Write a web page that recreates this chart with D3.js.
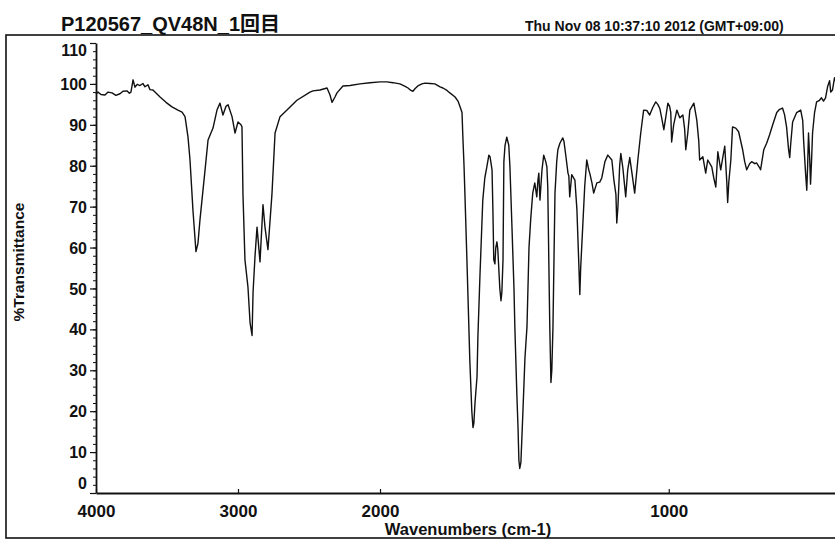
<!DOCTYPE html>
<html>
<head>
<meta charset="utf-8">
<script src="https://cdn.jsdelivr.net/npm/d3@7"></script>
<style>
	html, body { margin: 0; padding: 0; background: #fff; overflow: hidden; }
	svg { display: block; font-family: "Liberation Sans", Arial, "Noto Sans CJK JP", sans-serif; }
</style>
</head>
<body>
<svg id="chart" width="835" height="540"></svg>
<script>
const title = 'P120567_QV48N_1回目';
const stamp = 'Thu Nov 08 10:37:10 2012 (GMT+09:00)';

// spectrum: wavenumber (cm-1) and %T
const wavenumbers = [
	4000, 3986, 3965, 3937, 3915, 3887, 3860, 3831, 3810, 3782, 3765, 3754, 3739, 3730, 3725, 3710, 3690, 3670, 3655, 3634, 3620, 3599,
	3549, 3507, 3465, 3423, 3394, 3373, 3352, 3338, 3317, 3296, 3282, 3268, 3232, 3211, 3176, 3148, 3127, 3106, 3085, 3070, 3042,
	3021, 3000, 2979, 2972, 2965, 2951, 2930, 2915, 2901, 2894, 2880, 2866, 2845, 2824, 2810, 2789, 2761, 2739, 2704, 2655, 2585,
	2493, 2472, 2423, 2373, 2352, 2338, 2317, 2303, 2261, 2211, 2141, 2070, 2000,
	1976, 1955, 1931, 1913, 1903, 1893, 1886, 1879, 1869, 1855, 1844, 1827, 1810, 1792, 1782, 1768, 1758, 1740, 1730, 1723, 1716,
	1713, 1709, 1706, 1699, 1692, 1689, 1682, 1678, 1675, 1671, 1664, 1661, 1654, 1647, 1644, 1637, 1630, 1623, 1619, 1612, 1609,
	1606, 1602, 1599, 1595, 1592, 1585, 1581, 1578, 1574, 1571, 1567, 1561, 1554, 1550, 1543, 1536, 1533, 1526, 1522, 1519, 1516,
	1512, 1505, 1498, 1491, 1484, 1478, 1471, 1464, 1457, 1453, 1450, 1446, 1439, 1433, 1426, 1422, 1419, 1415, 1412, 1408, 1405,
	1401, 1394, 1388, 1384, 1377, 1367, 1363, 1356, 1349, 1346, 1343, 1336, 1325, 1318, 1311, 1308, 1305, 1298, 1291, 1284, 1277,
	1273, 1266, 1260, 1249, 1239, 1232, 1221, 1211, 1197, 1190, 1183, 1180, 1176, 1170, 1166, 1159, 1149, 1142, 1135, 1128, 1118,
	1107, 1097, 1087, 1076, 1066, 1055, 1045, 1038, 1031, 1024, 1017, 1010, 1003, 997, 993, 990, 983, 972, 962, 951, 945, 941,
	934, 927, 913, 903, 896, 893, 882, 872, 865, 851, 844, 837, 830, 820, 813, 806, 799, 796, 792, 785, 779, 768, 758, 744, 737,
	730, 720, 713, 702, 696, 685, 682, 671, 661, 651, 640, 626, 616, 606, 599, 592, 585, 581, 578, 571, 557, 543, 536, 533, 526,
	522, 519, 516, 512, 509, 505, 502, 495, 488, 478, 471, 464, 457, 450, 443, 439, 433, 426, 415, 401
];
const transmittance = [
	97.5, 98.0, 97.4, 97.3, 98.0, 97.8, 97.2, 97.6, 98.2, 98.3, 97.7, 98.0, 101.0, 99.8, 99.2, 99.9, 99.6, 100.1, 99.3, 99.8, 98.6, 98.5,
	96.8, 95.5, 94.4, 93.6, 93.1, 92.0, 87.0, 81.4, 69.0, 59.0, 61.0, 66.7, 79.0, 86.3, 89.2, 93.6, 95.3, 92.4, 94.5, 94.9, 92.0,
	88.0, 90.7, 90.0, 89.5, 73.0, 57.0, 50.4, 41.6, 38.5, 49.0, 58.0, 65.0, 56.5, 70.5, 65.0, 59.5, 73.0, 88.0, 92.0, 93.6, 96.0,
	98.0, 98.3, 98.5, 99.0, 97.3, 95.5, 96.8, 97.8, 99.5, 99.6, 100.0, 100.3, 100.5,
	100.5, 100.3, 100.0, 99.4, 99.0, 98.4, 98.2, 98.8, 99.5, 100.0, 100.2, 100.1, 100.0, 99.3, 99.0, 98.4, 97.8, 96.8, 95.8, 94.5, 93.0,
	87.0, 80.0, 73.3, 57.0, 40.0, 32.5, 20.0, 16.0, 17.0, 22.0, 28.4, 38.0, 52.8, 66.0, 71.6, 77.0, 79.7, 82.6, 82.2, 79.0, 69.2,
	57.0, 56.0, 60.0, 61.4, 59.5, 50.0, 47.0, 49.0, 57.0, 81.0, 85.0, 87.0, 85.0, 79.7, 65.0, 50.0, 40.6, 24.0, 16.0, 8.0, 6.0,
	7.5, 20.0, 33.0, 40.6, 60.0, 67.0, 73.3, 75.8, 72.4, 76.5, 78.2, 71.6, 79.0, 82.6, 81.0, 79.7, 74.8, 55.0, 40.6, 27.0, 30.0,
	40.6, 73.3, 81.0, 83.9, 85.5, 86.8, 86.0, 82.2, 78.2, 77.5, 72.4, 77.8, 76.5, 69.2, 55.0, 48.5, 55.0, 65.0, 75.0, 81.4, 79.0,
	78.0, 75.8, 73.3, 75.8, 76.0, 77.0, 81.0, 82.6, 81.4, 76.5, 73.0, 66.0, 70.0, 80.0, 83.0, 79.5, 72.4, 79.0, 82.0, 78.5, 73.3,
	81.4, 88.0, 93.6, 93.5, 92.4, 94.3, 95.6, 95.0, 94.0, 91.5, 88.8, 92.0, 95.3, 94.5, 93.0, 85.8, 90.0, 93.6, 91.7, 92.4, 89.0, 83.9,
	88.0, 93.6, 95.3, 91.2, 86.0, 81.4, 82.2, 78.2, 81.4, 79.7, 77.0, 74.8, 83.4, 79.0, 82.0, 84.8, 76.0, 71.0, 76.0, 81.4, 89.5, 89.2, 88.3, 83.9, 81.0,
	79.0, 80.5, 81.0, 80.5, 80.7, 79.5, 79.0, 83.9, 85.5, 87.5, 90.0, 93.0, 93.8, 94.1, 92.5, 89.5, 84.0, 82.0, 85.0, 90.7, 93.0, 93.6, 91.0, 86.3, 78.0,
	74.0, 80.0, 88.0, 82.0, 75.5, 82.0, 88.0, 93.0, 95.6, 96.0, 96.6, 95.8, 96.6, 99.3, 100.8, 98.0, 98.5, 101.5, 99.0, 100.0
];
const xTicks = [4000, 3000, 2000, 1000];
const yTicks = [0, 10, 20, 30, 40, 50, 60, 70, 80, 90, 100, 110];
const yMinorTicks = d3.range(0, 111, 2);

const svg = d3.select('#chart');
const ink = '#111';

// scan frame
svg.append('rect')
	.attr('x', 6)
	.attr('y', 35)
	.attr('width', 840)
	.attr('height', 503)
	.style('fill', 'none')
	.style('stroke', ink)
	.style('stroke-width', 1.6);

svg.append('text')
	.attr('x', 61)
	.attr('y', 31)
	.style('font-size', '20px')
	.style('font-weight', 'bold')
	.style('fill', ink)
	.text(title);

svg.append('text')
	.attr('x', 525)
	.attr('y', 31)
	.style('font-size', '14px')
	.style('font-weight', 'bold')
	.style('fill', ink)
	.text(stamp);

// wavenumber axis is expanded 2x below 2000 cm-1
const x = d3.scaleLinear().domain([4000, 2000, 400]).range([96, 380, 842]);
const y = d3.scaleLinear().domain([0, 110]).range([493, 43]);

const xAxis = svg.append('g')
	.attr('transform', `translate(0,${y(0)})`)
	.call(d3.axisBottom(x).tickValues(xTicks).tickSize(-4).tickSizeOuter(0).tickPadding(10).tickFormat(d3.format('d')));
xAxis.select('.domain').style('stroke', ink).style('stroke-width', 1.8);
xAxis.selectAll('.tick line').style('stroke', ink).style('stroke-width', 1.2);
xAxis.selectAll('.tick text')
	.style('font-family', '"Liberation Sans", Arial, sans-serif')
	.style('font-size', '17px')
	.style('font-weight', 'bold')
	.style('fill', ink)
	.attr('dy', '0.85em');

svg.append('g')
	.attr('transform', `translate(${x(4000)},0)`)
	.call(d3.axisLeft(y).tickValues(yMinorTicks).tickSize(3).tickFormat(''))
	.call((g) => g.select('.domain').remove())
	.selectAll('.tick line').style('stroke', ink);

const yAxis = svg.append('g')
	.attr('transform', `translate(${x(4000)},0)`)
	.call(d3.axisLeft(y).tickValues(yTicks).tickSize(6).tickSizeOuter(0).tickPadding(3));
yAxis.select('.domain').style('stroke', ink).style('stroke-width', 1.8);
yAxis.selectAll('.tick line').style('stroke', ink).style('stroke-width', 1.2);
yAxis.selectAll('.tick text')
	.style('font-family', '"Liberation Sans", Arial, sans-serif')
	.style('font-size', '16px')
	.style('font-weight', 'bold')
	.style('fill', ink)
	.attr('dy', (d) => (d === 110 ? '0.75em' : d === 0 ? '-0.3em' : '0.35em'));

svg.append('text')
	.attr('transform', 'translate(24,262) rotate(-90)')
	.attr('text-anchor', 'middle')
	.style('font-size', '15.5px')
	.style('font-weight', 'bold')
	.style('fill', ink)
	.text('%Transmittance');

svg.append('text')
	.attr('x', 468)
	.attr('y', 535)
	.attr('text-anchor', 'middle')
	.style('font-size', '16.5px')
	.style('font-weight', 'bold')
	.style('fill', ink)
	.text('Wavenumbers (cm-1)');

const points = wavenumbers.map((w, i) => [w, transmittance[i]]);
const line = d3.line().x((d) => x(d[0])).y((d) => y(d[1]));

svg.append('path')
	.datum(points)
	.attr('d', line)
	.style('fill', 'none')
	.style('stroke', ink)
	.style('stroke-width', 1.4)
	.style('stroke-linejoin', 'round');
</script>
</body>
</html>
